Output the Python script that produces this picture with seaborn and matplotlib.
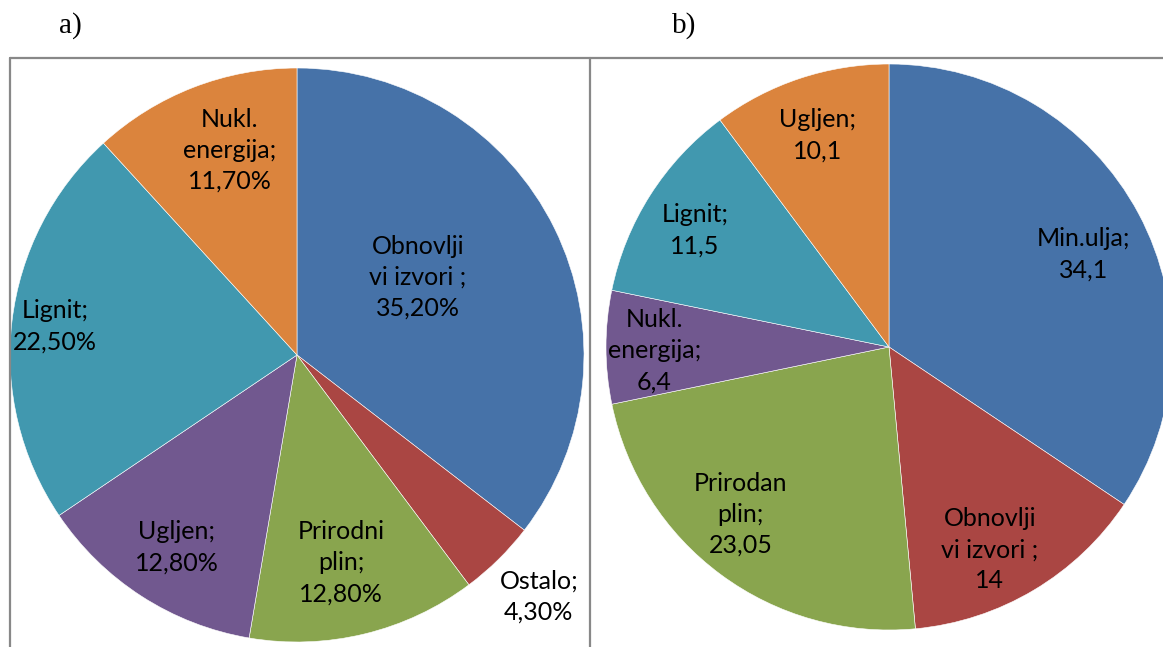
import matplotlib
matplotlib.use("Agg")
import matplotlib.pyplot as plt
import numpy as np
import seaborn as sns
from matplotlib.lines import Line2D

# data: a)
labels_a = ["Obnovlji\nvi izvori ;", "Ostalo;", "Prirodni\nplin;", "Ugljen;", "Lignit;", "Nukl.\nenergija;"]
values_a = [35.2, 4.3, 12.8, 12.8, 22.5, 11.7]

# data: b)
labels_b = ["Min.ulja;", "Obnovlji\nvi izvori ;", "Prirodan\nplin;", "Nukl.\nenergija;", "Lignit;", "Ugljen;"]
values_b = [34.1, 14, 23.05, 6.4, 11.5, 10.1]

colors_a = ["#4672A8", "#AA4643", "#89A54E", "#71588F", "#4198AF", "#DB843D"]
colors_b = ["#4672A8", "#AA4643", "#89A54E", "#71588F", "#4198AF", "#DB843D"]

# label placement: radial fraction and angular nudge (deg) from wedge middle
dist_a = [0.50, 1.19, 0.74, 0.79, 0.85, 0.75]
nudge_a = [6.6, 0.5, -1.6, 0.8, 0.0, -3.0]
dist_b = [0.76, 0.80, 0.79, 0.83, 0.80, 0.79]
nudge_b = [-2.6, -4.3, -5.1, 0.9, 1.4, 0.4]

sns.set_theme(style="white")
plt.rcParams["font.family"] = ["Lato", "DejaVu Sans"]

W, H = 1163, 647
fig = plt.figure(figsize=(W / 100, H / 100), dpi=100)


def pie_axes(cx, cy, r):
    # cx, cy, r in pixels (y from top)
    return fig.add_axes([(cx - r) / W, (H - cy - r) / H, 2 * r / W, 2 * r / H])


def draw_pie(ax, values, labels, colors, dists, nudges, fmt):
    wedges, _ = ax.pie(values, colors=sns.color_palette(colors), startangle=90,
                       counterclock=False, normalize=True,
                       wedgeprops=dict(edgecolor="white", linewidth=0.4))
    for w, lab, v, d, n in zip(wedges, labels, values, dists, nudges):
        mid = np.deg2rad((w.theta1 + w.theta2) / 2 + n)
        ax.text(d * np.cos(mid), d * np.sin(mid), f"{lab}\n{fmt(v)}",
                ha="center", va="center", fontsize=18, color="black",
                linespacing=1.42, clip_on=False)
    ax.set_xlim(-1, 1)
    ax.set_ylim(-1, 1)


ax_a = pie_axes(297, 355, 287)
draw_pie(ax_a, values_a, labels_a, colors_a, dist_a, nudge_a,
         lambda v: f"{v:.2f}%".replace(".", ","))

ax_b = pie_axes(889, 347, 283)
draw_pie(ax_b, values_b, labels_b, colors_b, dist_b, nudge_b,
         lambda v: f"{v:g}".replace(".", ","))

# frames around the charts
frame = dict(color="#888888", linewidth=1.6, transform=fig.transFigure)
top = 1 - 58 / H
fig.add_artist(Line2D([10 / W, 1], [top, top], **frame))
fig.add_artist(Line2D([10 / W, 10 / W], [0, top], **frame))
fig.add_artist(Line2D([590 / W, 590 / W], [0, top], **frame))

fig.text(70 / W, 1 - 26 / H, "a)", ha="center", va="center",
         fontsize=21, family="Liberation Serif", color="black")
fig.text(684 / W, 1 - 26 / H, "b)", ha="center", va="center",
         fontsize=21, family="Liberation Serif", color="black")

fig.savefig("out.png", dpi=100, facecolor="white")
